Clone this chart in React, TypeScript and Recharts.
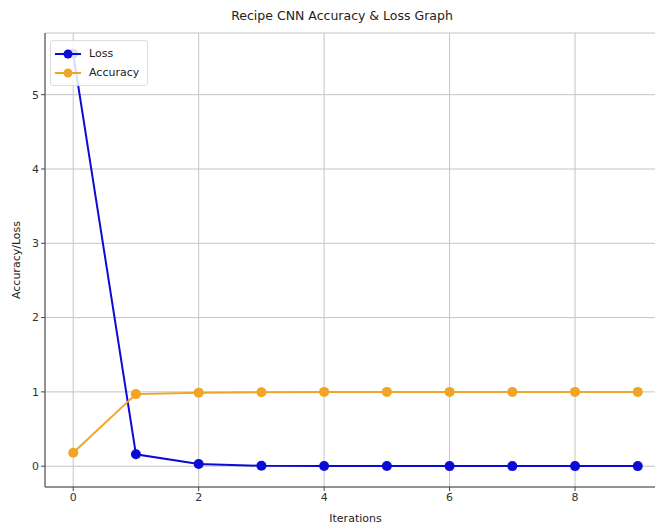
import {
  CartesianGrid,
  Line,
  LineChart,
  XAxis,
  YAxis,
} from "recharts";

const iterations = [0, 1, 2, 3, 4, 5, 6, 7, 8, 9];
const loss = [5.55, 0.16, 0.03, 0.005, 0.003, 0.002, 0.001, 0.001, 0.001, 0.001];
const accuracy = [0.18, 0.97, 0.99, 0.995, 1, 1, 1, 1, 1, 1];
const xTicks = [0, 2, 4, 6, 8];
const yTicks = [0, 1, 2, 3, 4, 5];

const data = iterations.map((it, i) => ({
  iteration: it,
  loss: loss[i],
  accuracy: accuracy[i],
}));

const LOSS = "#0b0bd6";
const ACC = "#f2a426";
const FONT = "'DejaVu Sans', sans-serif";
const tickStyle = { fontSize: 11, fill: "#333", fontFamily: FONT };

// matplotlib-like legend box in the upper-left corner
function LegendBox() {
  const items = [
    { name: "Loss", color: LOSS },
    { name: "Accuracy", color: ACC },
  ];
  return (
    <div
      style={{
        position: "absolute",
        top: 40,
        left: 50,
        border: "1px solid #ddd",
        borderRadius: 3,
        background: "rgba(255,255,255,0.85)",
        padding: "3px 8px 3px 4px",
        fontFamily: FONT,
        fontSize: 11,
        color: "#222",
      }}
    >
      {items.map((it) => (
        <div key={it.name} style={{ display: "flex", alignItems: "center", height: 19 }}>
          <svg width={26} height={12} style={{ marginRight: 8 }}>
            <line x1={0} y1={6} x2={26} y2={6} stroke={it.color} strokeWidth={2} />
            <circle cx={13} cy={6} r={4.5} fill={it.color} />
          </svg>
          {it.name}
        </div>
      ))}
    </div>
  );
}

export default function App() {
  return (
    <div style={{ position: "absolute", left: 0, top: 0, width: 655, height: 526, overflow: "hidden", background: "#fff" }}>
      <div
        style={{
          position: "absolute",
          top: 8,
          left: 0,
          width: 684,
          textAlign: "center",
          fontFamily: FONT,
          fontSize: 12.5,
          color: "#222",
        }}
      >
        Recipe CNN Accuracy &amp; Loss Graph
      </div>
      <div style={{ position: "absolute", left: 0, top: 0 }}>
        <LineChart
          width={680}
          height={526}
          data={data}
          margin={{ top: 33, right: 14, bottom: 0, left: 0 }}
        >
          <CartesianGrid stroke="#c4c4c4" strokeWidth={1} />
          <XAxis
            dataKey="iteration"
            type="number"
            domain={[-0.45, 9.45]}
            ticks={xTicks}
            height={39}
            tickSize={4}
            tick={tickStyle}
            stroke="#444"
            label={{ value: "Iterations", position: "insideBottom", offset: 4, style: { ...tickStyle, fill: "#222" } }}
          />
          <XAxis xAxisId="top" orientation="top" dataKey="iteration" type="number" domain={[-0.45, 9.45]} tick={false} height={0} stroke="#555" />
          <YAxis
            type="number"
            domain={[-0.28, 5.83]}
            ticks={yTicks}
            width={45}
            tickSize={4}
            tick={tickStyle}
            stroke="#444"
            label={{ value: "Accuracy/Loss", angle: -90, position: "insideLeft", offset: 16, style: { ...tickStyle, fill: "#222", textAnchor: "middle" } }}
          />
          <Line
            dataKey="loss"
            name="Loss"
            stroke={LOSS}
            strokeWidth={2}
            dot={{ r: 5, fill: LOSS, stroke: LOSS, strokeWidth: 0 }}
            isAnimationActive={false}
          />
          <Line
            dataKey="accuracy"
            name="Accuracy"
            stroke={ACC}
            strokeWidth={2}
            dot={{ r: 5, fill: ACC, stroke: ACC, strokeWidth: 0 }}
            isAnimationActive={false}
          />
        </LineChart>
      </div>
      <LegendBox />
    </div>
  );
}
